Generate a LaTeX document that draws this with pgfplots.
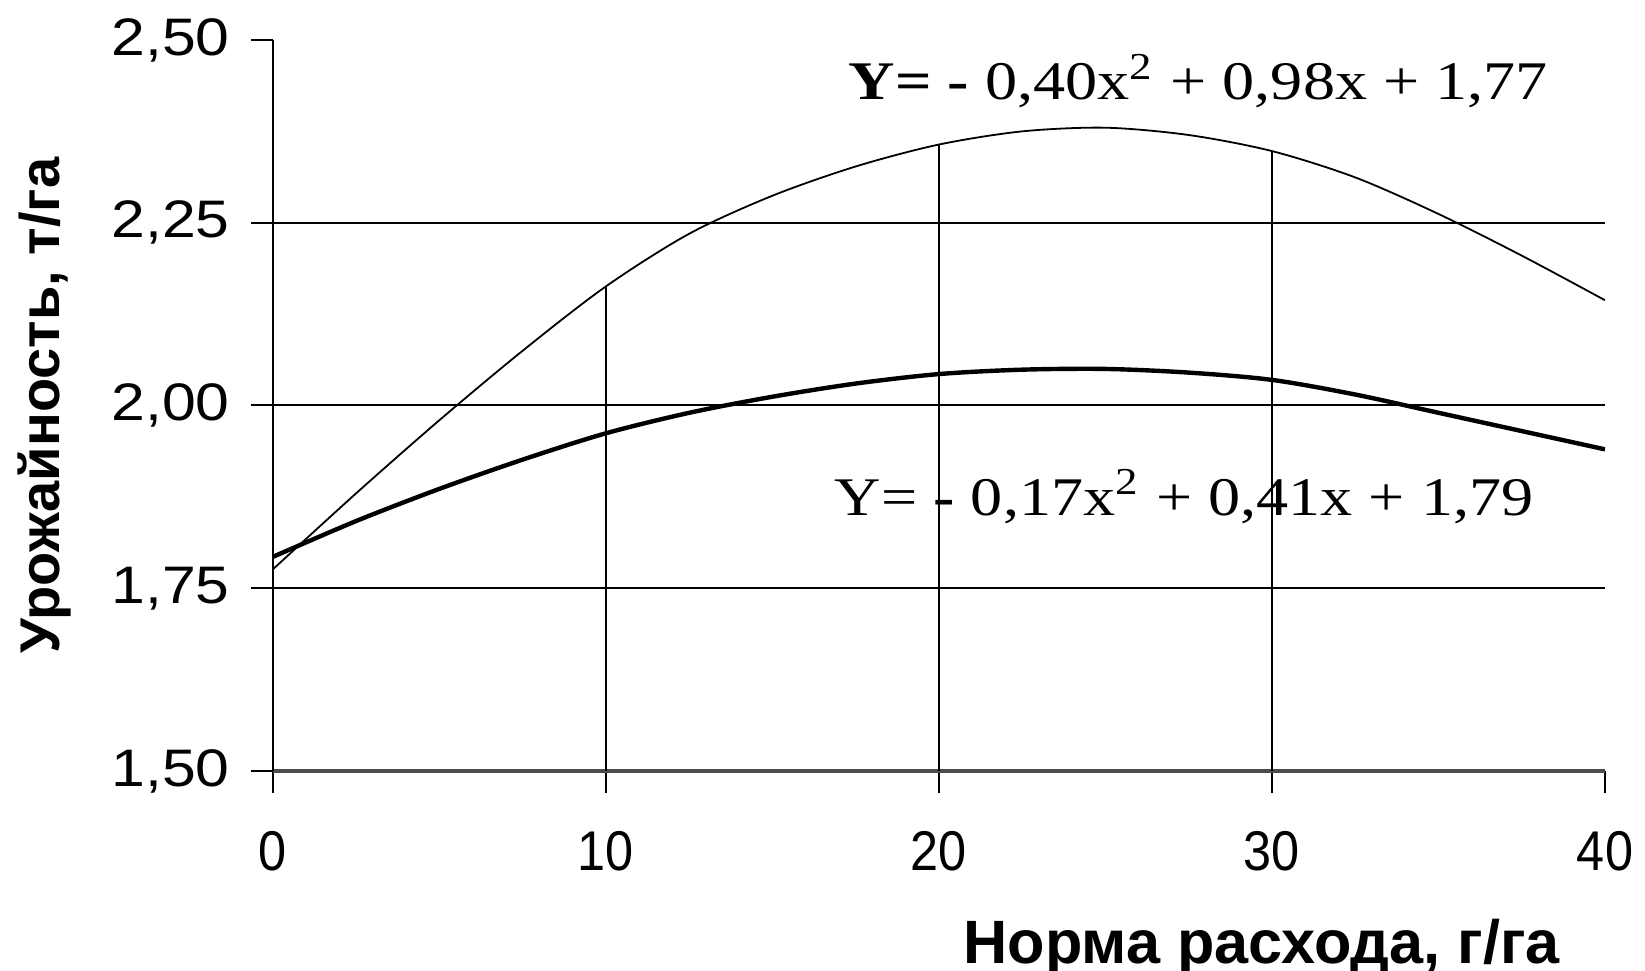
\documentclass[border=0pt]{standalone}
\usepackage{graphicx}
\usepackage{pgfplots}
\pgfplotsset{compat=1.18}
\usepackage{fontspec}
\setmainfont{Liberation Sans}
\newfontfamily\eqfont{Liberation Serif}
\begin{document}
\begin{tikzpicture}
\begin{axis}[name=ax, at={(0,0)}, anchor=south west,
  scale only axis, width=333pt, height=182.75pt,
  xmin=0, xmax=40, ymin=1.5, ymax=2.5,
  axis lines=left, axis line style={-},
  x axis line style={line width=1.2pt, black!70},
  y axis line style={line width=0.6pt, black},
  xtick={0,10,20,30,40}, ytick={1.5,1.75,2,2.25,2.5},
  tick align=outside, major tick length=5.5pt,
  tick style={black, line width=0.5pt},
  extra y ticks={1.75,2,2.25}, extra y tick labels={},
  extra y tick style={grid=major, major tick length=0pt},
  grid style={black, line width=0.5pt},
  yticklabel={\scalebox{1.15}[1]{\pgfmathprintnumber[fixed, fixed zerofill, precision=2, use comma, assume math mode=true]{\tick}}},
  xticklabel={\scalebox{0.9}[1]{\pgfmathprintnumber[assume math mode=true]{\tick}}},
  yticklabel style={font=\fontsize{13.2}{15}\selectfont, xshift=-1.8pt},
  xticklabel style={font=\fontsize{14}{16}\selectfont, yshift=-6pt},
  ylabel={Урожайность, т/га},
  xlabel={Норма расхода, г/га},
  ylabel style={font=\bfseries\fontsize{14}{16}\selectfont, at={(axis description cs:-0.1712,0.5)}, anchor=center},
  xlabel style={font=\bfseries\fontsize{15.3}{17}\selectfont, at={(axis description cs:0.9767,-0.2627)}, anchor=base east},
]
% drop lines from the upper curve
\addplot[ycomb, black, line width=0.5pt] coordinates {(10,2.163) (20,2.357) (30,2.348)};
% upper curve (thin)
\addplot[smooth, black, line width=0.45pt] coordinates {
(0,1.776) (2.5,1.880) (5,1.980) (7.5,2.075) (10,2.163) (12.5,2.235) (15,2.287)
(17.5,2.327) (20,2.357) (22.5,2.375) (25,2.380) (27.5,2.370) (30,2.348)
(32.5,2.312) (35,2.262) (37.5,2.205) (40,2.144)};
% lower curve (thick)
\addplot[smooth, black, line width=1.1pt] coordinates {
(0,1.793) (2.5,1.842) (5,1.886) (7.5,1.926) (10,1.962) (12.5,1.990) (15,2.012)
(17.5,2.030) (20,2.043) (22.5,2.049) (25,2.050) (27.5,2.045) (30,2.035)
(32.5,2.015) (35,1.990) (37.5,1.965) (40,1.940)};
\node[anchor=base west, inner sep=0pt, font=\eqfont\fontsize{13.6}{16}\selectfont] at (axis cs:17.27,2.418)
  {\scalebox{1.18}[1]{\textbf{Y=~-}~0,40x\textsuperscript{2}~+~0,98x~+~1,77}};
\node[anchor=base west, inner sep=0pt, font=\eqfont\fontsize{13.6}{16}\selectfont] at (axis cs:16.85,1.849)
  {\scalebox{1.18}[1]{Y=~\textbf{-}~0,17x\textsuperscript{2}~+~0,41x~+~1,79}};
\end{axis}
\pgfresetboundingbox
\path (ax.south west) ++(-68.25pt,-50pt) rectangle ++(411.25pt,242.75pt);
\end{tikzpicture}
\end{document}
